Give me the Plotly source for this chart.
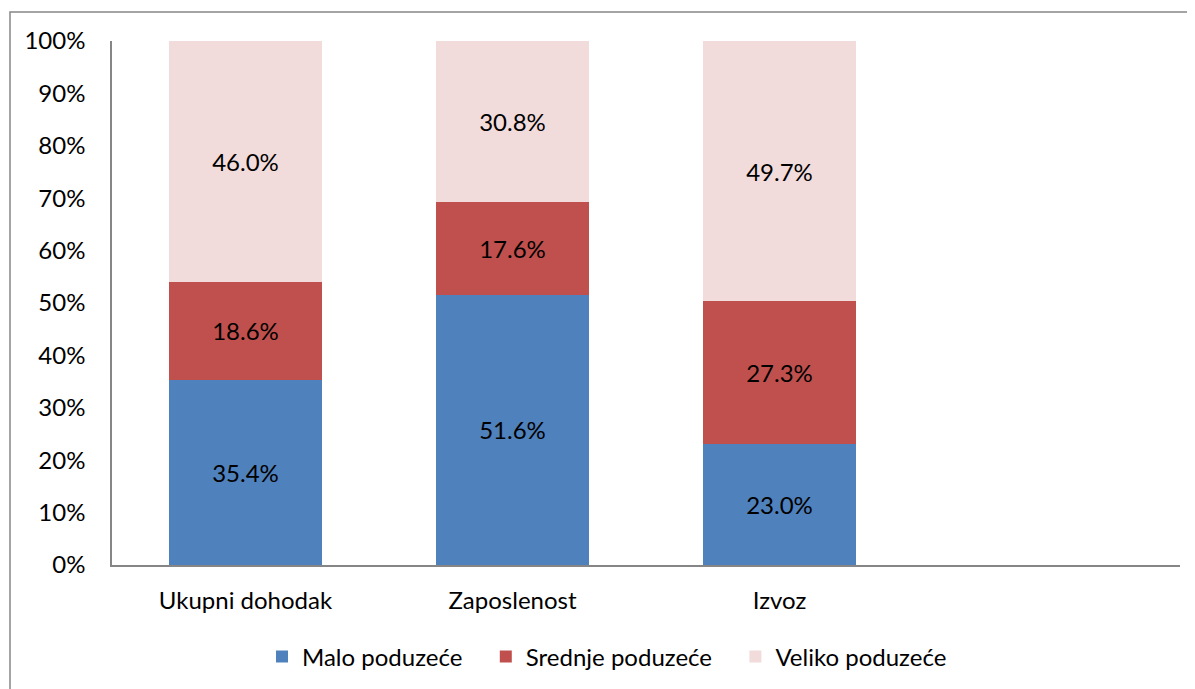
import plotly.graph_objects as go

categories = ["Ukupni dohodak", "Zaposlenost", "Izvoz"]
series_names = ["Malo poduzeće", "Srednje poduzeće", "Veliko poduzeće"]
malo = [35.4, 51.6, 23.0]
srednje = [18.6, 17.6, 27.3]
veliko = [46.0, 30.8, 49.7]
colors = ["#4F81BD", "#C0504D", "#F2DCDB"]
y_ticks = [0, 10, 20, 30, 40, 50, 60, 70, 80, 90, 100]
y_tick_labels = [f"{v}%" for v in y_ticks]

FONT = "Lato, 'Open Sans', sans-serif"
FS = 24
OFF = 8  # page body margin
W, H = 1195 - OFF, 689 - OFF
ML, MT = 112 - OFF, 41 - OFF
PW, PH = 1068, 524
MR, MB = W - ML - PW, H - MT - PH

x_pos = list(range(len(categories)))
legend_pad = ["\u00a0\u00a0\u00a0", "\u00a0\u00a0\u00a0", ""]

fig = go.Figure()
for name, vals, col, pad in zip(series_names, [malo, srednje, veliko], colors, legend_pad):
    fig.add_trace(go.Bar(
        x=x_pos, y=vals, name=name + pad, marker=dict(color=col, line=dict(width=0)),
        width=0.57,
        text=[f"{v:.1f}%" for v in vals], textposition="inside",
        insidetextanchor="middle", textangle=0,
        textfont=dict(family=FONT, size=FS, color="#000000"),
        hoverinfo="skip",
    ))

# border lines (left and top) of the chart area
bx = (10 - 112) / PW
by = 1 + (41 - 12) / PH
fig.add_shape(type="path", xref="paper", yref="paper",
              path=f"M {bx},-1 L {bx},{by} L 1.5,{by}",
              line=dict(color="#868686", width=1.5))

fig.update_layout(
    width=W, height=H,
    margin=dict(l=ML, r=MR, t=MT, b=MB, autoexpand=False),
    barmode="stack",
    paper_bgcolor="white", plot_bgcolor="white",
    font=dict(family=FONT, size=FS, color="#000000"),
    showlegend=True,
    legend=dict(orientation="h", x=(607 - 112) / PW, xanchor="center",
                y=(565 - 657) / PH, yanchor="middle",
                font=dict(family=FONT, size=FS), traceorder="normal",
                itemwidth=30),
    uniformtext=dict(mode=False),
)
fig.update_xaxes(
    range=[-0.5, 3.5], tickvals=x_pos, ticktext=categories,
    showline=True, linecolor="#868686", linewidth=1.5,
    showgrid=False, zeroline=False, ticks="", ticklabelstandoff=13,
    tickfont=dict(family=FONT, size=FS),
)
fig.update_yaxes(
    range=[0, 100], tickvals=y_ticks, ticktext=y_tick_labels,
    showline=True, linecolor="#868686", linewidth=1.5,
    showgrid=False, zeroline=False, ticks="", ticklabelstandoff=20,
    tickfont=dict(family=FONT, size=FS),
)

fig.write_html("out.html")
